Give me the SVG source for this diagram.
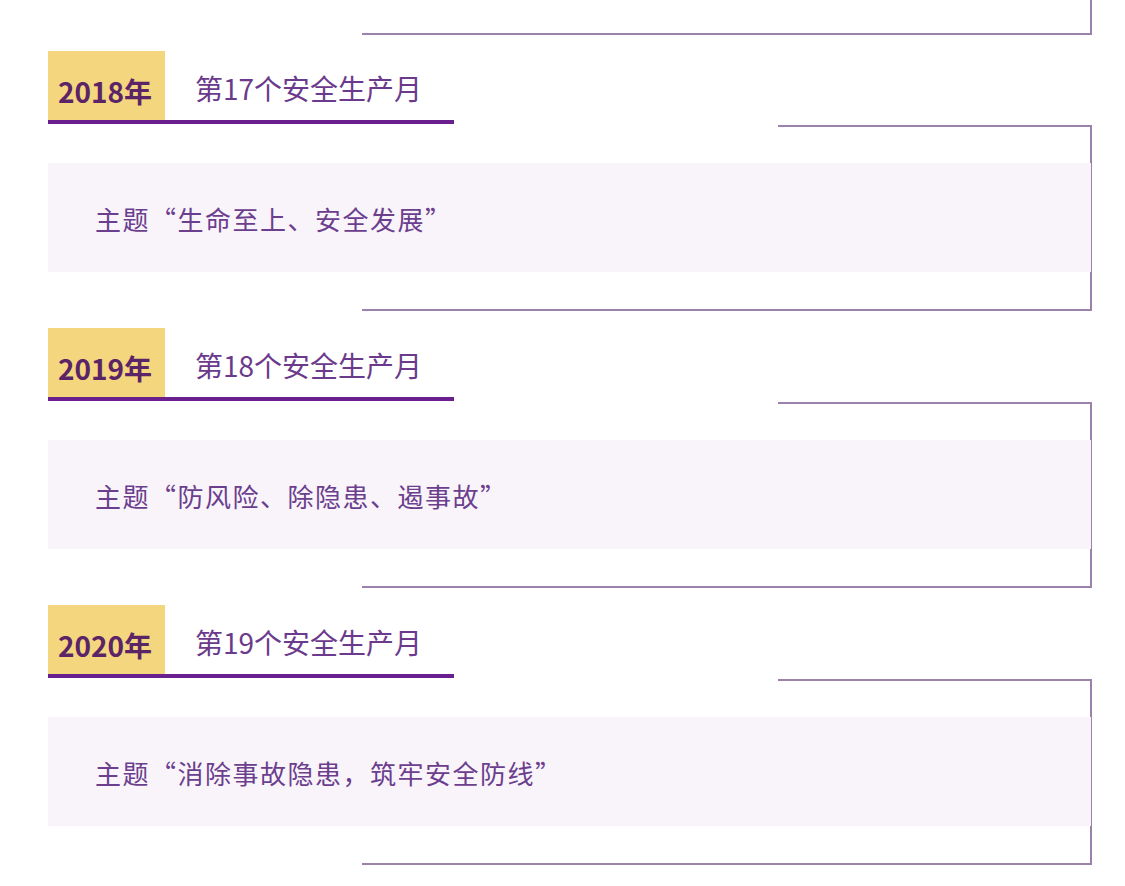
<svg xmlns="http://www.w3.org/2000/svg" width="1125" height="886" viewBox="0 0 1125 886">
<style>
.band{fill:#f9f4fa}
.ybox{fill:#f4d67e}
.uline{stroke:#6a1f8f;stroke-width:4;fill:none}
.br{stroke:#9a82aa;stroke-width:2;fill:none}
.yr{font-family:"Noto Sans CJK SC","Noto Sans",sans-serif;font-weight:bold;font-size:28px;fill:#5a2466}
.tt{font-family:"Noto Sans CJK SC","Noto Sans",sans-serif;font-size:28px;fill:#6b3a8c}
.th{font-family:"Noto Sans CJK SC","Noto Sans",sans-serif;font-size:26px;letter-spacing:1.5px;fill:#6b3e8e}
</style>
<rect width="1125" height="886" fill="#ffffff"/>
<g id="connectors">
<polyline class="br" points="1091,0 1091,34 362,34"/>
<polyline class="br" points="778,126 1091,126 1091,310 362,310"/>
<polyline class="br" points="778,403 1091,403 1091,587 362,587"/>
<polyline class="br" points="778,680 1091,680 1091,864 362,864"/>
</g>
<g id="y2018">
<rect class="band" x="48" y="163" width="1043" height="109"/>
<rect class="ybox" x="48" y="51" width="117" height="70"/>
<line class="uline" x1="48" y1="122" x2="454" y2="122"/>
<text class="yr" x="58" y="103">2018年</text>
<text class="tt" x="195" y="100">第17个安全生产月</text>
<text class="th" x="95" y="230">主题“生命至上、安全发展”</text>
</g>
<g id="y2019">
<rect class="band" x="48" y="440" width="1043" height="109"/>
<rect class="ybox" x="48" y="328" width="117" height="70"/>
<line class="uline" x1="48" y1="399" x2="454" y2="399"/>
<text class="yr" x="58" y="380">2019年</text>
<text class="tt" x="195" y="377">第18个安全生产月</text>
<text class="th" x="95" y="507">主题“防风险、除隐患、遏事故”</text>
</g>
<g id="y2020">
<rect class="band" x="48" y="717" width="1043" height="109"/>
<rect class="ybox" x="48" y="605" width="117" height="70"/>
<line class="uline" x1="48" y1="676" x2="454" y2="676"/>
<text class="yr" x="58" y="657">2020年</text>
<text class="tt" x="195" y="654">第19个安全生产月</text>
<text class="th" x="95" y="784">主题“消除事故隐患，筑牢安全防线”</text>
</g>
</svg>
